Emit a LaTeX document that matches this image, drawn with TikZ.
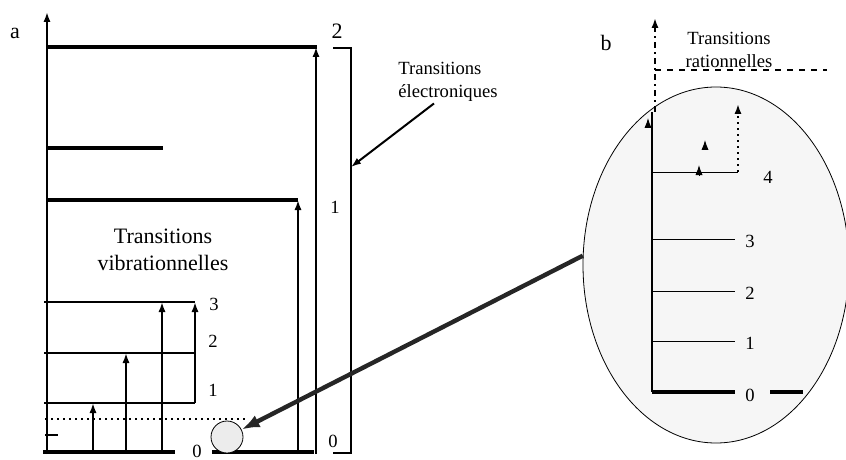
\documentclass[tikz,border=0pt]{standalone}
\usepackage{fontspec}
\setmainfont{Liberation Serif}
\usepackage{tikz}
\usetikzlibrary{calc, shapes.geometric, positioning, arrows.meta}

\tikzset{
  niveau/.style={line width=1.6pt},
  trait/.style={line width=1pt},
  fin/.style={line width=0.5pt},
  txt/.style={font=\fontsize{9.3}{11.2}\selectfont, inner sep=1pt},
  lettre/.style={font=\fontsize{11}{13}\selectfont, inner sep=1pt},
}

\begin{document}
\begin{tikzpicture}[>={Latex[length=5pt, width=3.6pt]}, x=0.5pt, y=-0.5pt]
    \useasboundingbox (0,0) rectangle (846,460);

    % 1. Schéma a : niveaux électroniques
    \node[lettre] (lettrea) at (15,33) {a};
    \draw[trait, ->] (47,454) -- (47,12);
    \draw[niveau] (47,47) -- (317,47);
    \draw[niveau] (47,148) -- (163,148);
    \draw[niveau] (47,200) -- (298,200);
    \draw[trait, ->] (298,454) -- (298,200);
    \draw[trait, ->] (316,454) -- (316,47);
    \draw[trait] (333,48) -- (351,48) -- (351,453) -- (333,453);
    \node[lettre] (e2) at (337,31) {2};
    \node[txt] (e1) at (335,207) {1};
    \node[txt] (e0) at (333,441) {0};
    \node[txt, align=left, anchor=north west] (elec) at (396,60) {Transitions\\électroniques};
    \coordinate (cible) at (351,167);
    \draw[trait, ->] ($(elec.south)+(-14,0)$) -- (cible);

    % 2. Niveaux vibrationnels
    \node[font=\fontsize{11}{13.2}\selectfont, align=center] (vib) at (163,250) {Transitions\\vibrationnelles};
    \draw[niveau] (43,452) -- (175,452);
    \draw[niveau] (212,452) -- (314,452);
    \foreach \y in {302,353,403} {
        \draw[trait] (44,\y) -- (195,\y);
    }
    \draw[trait, ->] (195,403) -- (195,302);
    \draw[trait, dotted] (45,419) -- (245,419);
    \draw[trait] (45,435) -- (58,435);
    \draw[trait, ->] (93,452) -- (93,403);
    \draw[trait, ->] (126,452) -- (126,353);
    \draw[trait, ->] (162,452) -- (162,302);
    \node[txt] (v3) at (214,304) {3};
    \node[txt] (v2) at (213,341) {2};
    \node[txt] (v1) at (213,390) {1};
    \node[txt] (v0) at (197,451) {0};
    \node[circle, draw, fill=gray!15, minimum size=16pt, inner sep=0pt] (bulle) at (227,437) {};

    % 3. Schéma b : zoom sur les niveaux
    \node[ellipse, draw, fill=gray!7, minimum width=133pt, minimum height=178pt, inner sep=0pt] (zoomb) at (716,265) {};
    \draw[line width=2.2pt, gray!30!black, -{Latex[length=9pt, width=6.5pt]}] (zoomb.176) -- (bulle);
    \node[lettre] (lettreb) at (606,43) {b};
    \draw[trait, dashdotted, ->] (655,112) -- (655,18);
    \node[txt, align=center] (rot) at (729,50) {Transitions\\rationnelles};
    \draw[trait, dashed] (655,70) -- (827,70);
    \draw[trait] (652,112) -- (652,392);
    \draw[niveau] (652,392) -- (735,392);
    \draw[niveau] (770,392) -- (803,392);
    \foreach \y/\n in {341/1,291/2,239/3} {
        \draw[fin] (652,\y) -- (735,\y);
        \node[txt] (r\n) at (750,\y+2) {\n};
    }
    \node[txt] (r0) at (750,395) {0};
    \draw[fin] (652,172) -- (738,172);
    \draw[trait, dotted, ->] (738,172) -- (738,104);
    \node[txt] (r4) at (768,177) {4};
    % petites flèches
    \draw[fin, ->] (699,175) -- (699,165);
    \draw[fin, ->] (705,150) -- (705,140);
    \draw[fin, ->] (648,128) -- (648,118);
\end{tikzpicture}
\end{document}
